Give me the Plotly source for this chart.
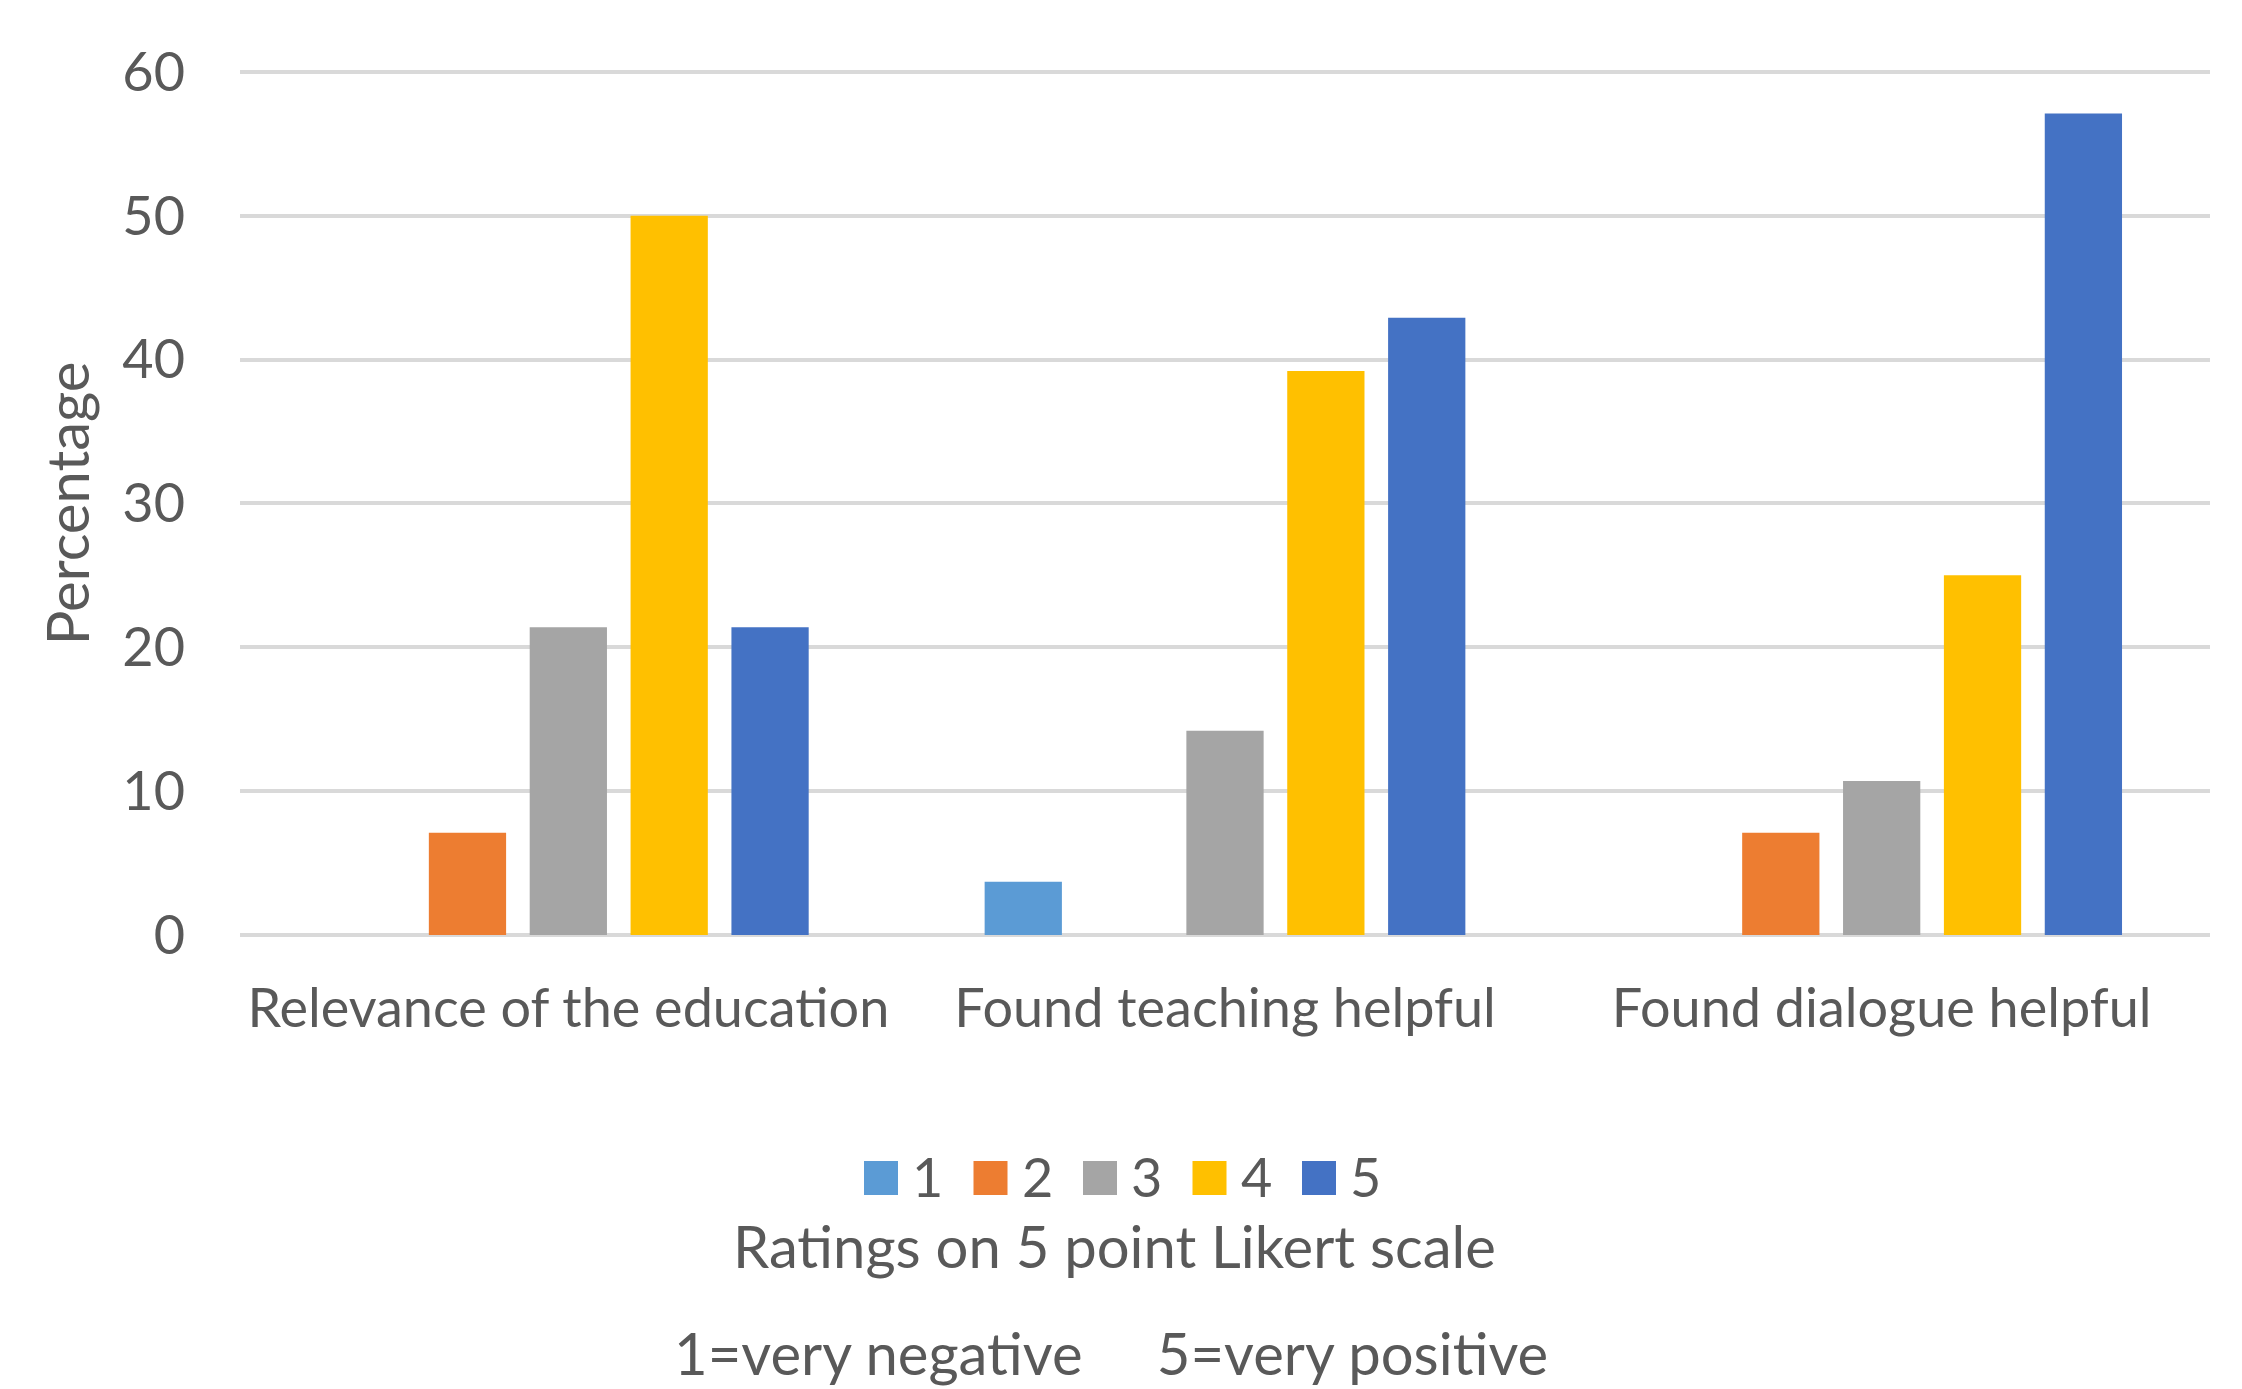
import plotly.graph_objects as go

categories = ["Relevance of the education", "Found teaching helpful", "Found dialogue helpful"]
ratings = ["1", "2", "3", "4", "5"]
rating1 = [0, 3.7, 0]
rating2 = [7.1, 0, 7.1]
rating3 = [21.4, 14.2, 10.7]
rating4 = [50.0, 39.2, 25.0]
rating5 = [21.4, 42.9, 57.1]
series_values = [rating1, rating2, rating3, rating4, rating5]
colors = ["#5B9BD5", "#ED7D31", "#A5A5A5", "#FFC000", "#4472C4"]
y_ticks = [0, 10, 20, 30, 40, 50, 60]

W, H = 2242, 1389
L, R, B = 240, 2210, 935
T60 = 71.5
YMAX = 60.2
ppu = (B - T60) / 60.0
T = B - YMAX * ppu
FONT = "Lato"
TXT = "#595959"
FS = 54
FT = 58

fig = go.Figure()
for name, vals, col in zip(ratings, series_values, colors):
    fig.add_trace(go.Bar(x=categories, y=vals, name=name, showlegend=False,
                         marker=dict(color=col, line=dict(width=0))))

ph = B - T
pw = R - L
def py(ypx):
    return (B - ypx) / ph
def px(xpx):
    return (xpx - L) / pw

shapes = []
annotations = [
    dict(text="Percentage", xref="paper", yref="paper", x=px(66), y=py(503), textangle=-90,
         showarrow=False, xanchor="center", yanchor="middle", font=dict(size=FT, color=TXT)),
    dict(text="Ratings on 5 point Likert scale", xref="paper", yref="paper", x=px(1114), y=py(1246),
         showarrow=False, xanchor="center", yanchor="middle", font=dict(size=FT, color=TXT)),
    dict(text="1=very negative &nbsp;&nbsp;&nbsp; 5=very positive", xref="paper", yref="paper",
         x=px(1111), y=py(1389), showarrow=False, xanchor="center", yanchor="bottom",
         font=dict(size=FT, color=TXT)),
]

# legend (swatch + label for each rating series)
leg_x0, leg_step, sw = 864, 109.5, 34
leg_top, leg_mid = 1161, 1177
for i, (name, col) in enumerate(zip(ratings, colors)):
    x0 = leg_x0 + i * leg_step
    shapes.append(dict(type="rect", xref="paper", yref="paper",
                       x0=px(x0), x1=px(x0 + sw), y0=py(leg_top + sw), y1=py(leg_top),
                       fillcolor=col, line=dict(width=0)))
    annotations.append(dict(text=name, xref="paper", yref="paper", x=px(x0 + sw + 12), y=py(leg_mid),
                            showarrow=False, xanchor="left", yanchor="middle",
                            font=dict(size=FS, color=TXT)))

fig.update_layout(
    width=W, height=H,
    margin=dict(l=L, r=W - R, t=T, b=H - B, pad=0),
    paper_bgcolor="white", plot_bgcolor="white",
    barmode="group", bargap=0.232, bargroupgap=0.234,
    font=dict(family=FONT, size=FS, color=TXT),
    showlegend=False,
    xaxis=dict(showline=False, ticks="", showgrid=False, tickfont=dict(size=FS, color=TXT),
               ticklabelstandoff=37, zeroline=False),
    yaxis=dict(range=[0, YMAX], tickvals=y_ticks, showgrid=True, gridcolor="#D9D9D9", gridwidth=4,
               zeroline=True, zerolinecolor="#D9D9D9", zerolinewidth=4, showline=False, ticks="",
               tickfont=dict(size=FS, color=TXT), ticklabelstandoff=54),
    shapes=shapes,
    annotations=annotations,
)

fig.write_html("out.html", config={"displayModeBar": False},
               post_script="document.body.style.margin='0';document.body.style.overflow='hidden';")
